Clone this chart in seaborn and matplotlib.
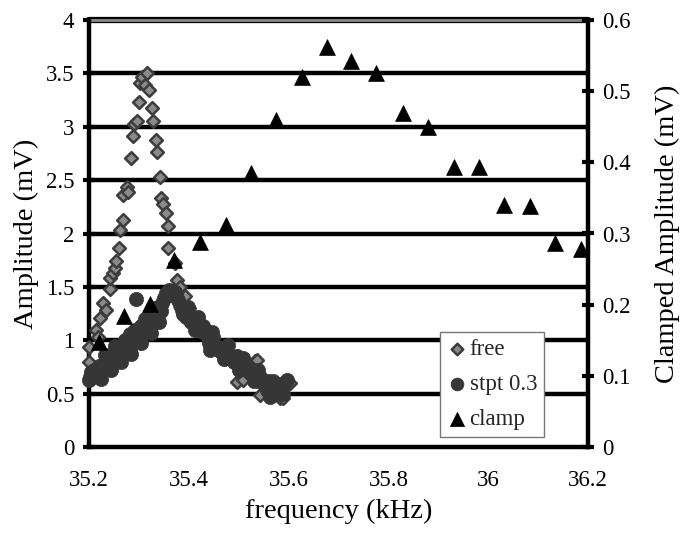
import matplotlib
matplotlib.use("Agg")
import matplotlib.pyplot as plt
import seaborn as sns
import pandas as pd

# ---- data ----
free_f = [35.200, 35.200, 35.215, 35.219, 35.222, 35.229, 35.235, 35.242, 35.243, 35.249,
          35.252, 35.255, 35.261, 35.262, 35.269, 35.269, 35.277, 35.279, 35.284, 35.289,
          35.290, 35.296, 35.300, 35.302, 35.306, 35.312, 35.317, 35.321, 35.326, 35.329,
          35.334, 35.337, 35.342, 35.345, 35.349, 35.354, 35.359, 35.359, 35.372, 35.377,
          35.382, 35.392, 35.400, 35.410, 35.420, 35.430, 35.440, 35.450, 35.460, 35.470,
          35.480, 35.496, 35.509, 35.509, 35.520, 35.533, 35.536, 35.543, 35.550, 35.560,
          35.570, 35.583, 35.589, 35.590, 35.603]
free_a = [0.80, 0.94, 1.10, 1.03, 1.21, 1.35, 1.28, 1.48, 1.58, 1.63,
          1.68, 1.74, 1.86, 2.03, 2.13, 2.36, 2.44, 2.39, 2.71, 2.91,
          3.03, 3.05, 3.23, 3.41, 3.47, 3.39, 3.50, 3.34, 3.18, 3.05,
          2.88, 2.76, 2.53, 2.33, 2.28, 2.19, 2.07, 1.86, 1.72, 1.56,
          1.50, 1.41, 1.30, 1.22, 1.15, 1.10, 1.02, 0.98, 0.92, 0.88,
          0.84, 0.61, 0.66, 0.63, 0.75, 0.81, 0.815, 0.49, 0.58, 0.55,
          0.52, 0.46, 0.46, 0.55, 0.60]

stpt_f = [35.200, 35.203, 35.205, 35.210, 35.215, 35.220, 35.223, 35.228, 35.230, 35.235,
          35.240, 35.245, 35.250, 35.255, 35.257, 35.262, 35.267, 35.272, 35.277, 35.282,
          35.283, 35.288, 35.294, 35.295, 35.300, 35.304, 35.309, 35.314, 35.319, 35.324,
          35.329, 35.334, 35.340, 35.344, 35.346, 35.350, 35.355, 35.357, 35.360, 35.364,
          35.368, 35.372, 35.375, 35.378, 35.382, 35.386, 35.389, 35.394, 35.400, 35.405,
          35.409, 35.415, 35.420, 35.425, 35.429, 35.435, 35.440, 35.443, 35.449, 35.452,
          35.458, 35.463, 35.469, 35.475, 35.480, 35.485, 35.490, 35.496, 35.500, 35.505,
          35.510, 35.516, 35.520, 35.525, 35.530, 35.535, 35.540, 35.543, 35.548, 35.553,
          35.558, 35.563, 35.563, 35.568, 35.573, 35.578, 35.583, 35.588, 35.590, 35.596,
          35.225, 35.245, 35.265, 35.285, 35.305, 35.325, 35.340,
          35.232, 35.252, 35.272, 35.292, 35.312, 35.332,
          35.398, 35.418, 35.446, 35.478, 35.508, 35.538, 35.568,
          35.412, 35.440, 35.470, 35.500, 35.530, 35.556]
stpt_a = [0.63, 0.66, 0.70, 0.72, 0.70, 0.76, 0.66, 0.74, 0.78, 0.82,
          0.80, 0.86, 0.84, 0.90, 0.91, 0.88, 0.95, 0.92, 0.97, 0.92,
          1.06, 1.02, 1.39, 1.08, 1.05, 1.13, 1.10, 1.16, 1.20, 1.19,
          1.22, 1.27, 1.30, 1.27, 1.35, 1.40, 1.44, 1.41, 1.47, 1.46,
          1.44, 1.45, 1.42, 1.38, 1.33, 1.28, 1.25, 1.22, 1.20, 1.17,
          1.19, 1.14, 1.12, 1.09, 1.13, 1.06, 1.02, 0.91, 1.03, 0.96,
          0.92, 0.90, 0.88, 0.86, 0.83, 0.85, 0.80, 0.85, 0.78, 0.76,
          0.74, 0.75, 0.70, 0.68, 0.72, 0.66, 0.62, 0.66, 0.60, 0.58,
          0.62, 0.60, 0.47, 0.55, 0.52, 0.58, 0.56, 0.50, 0.60, 0.63,
          0.64, 0.72, 0.80, 0.87, 0.97, 1.07, 1.17,
          0.86, 0.95, 1.00, 1.10, 1.20, 1.30,
          1.31, 1.22, 1.08, 0.96, 0.83, 0.72, 0.62,
          1.10, 0.97, 0.82, 0.72, 0.62, 0.53]

clamp_f = [35.220, 35.271, 35.322, 35.371, 35.422, 35.474, 35.524, 35.575, 35.626, 35.676,
           35.726, 35.776, 35.830, 35.880, 35.931, 35.982, 36.032, 36.084, 36.134, 36.185]
clamp_a = [0.147, 0.184, 0.201, 0.263, 0.288, 0.312, 0.385, 0.459, 0.520, 0.5625,
           0.543, 0.525, 0.470, 0.450, 0.393, 0.393, 0.340, 0.338, 0.287, 0.278]

x_ticks = [35.2, 35.4, 35.6, 35.8, 36.0, 36.2]
x_labels = ["35.2", "35.4", "35.6", "35.8", "36", "36.2"]
y_ticks = [0, 0.5, 1, 1.5, 2, 2.5, 3, 3.5, 4]
y_labels = ["0", "0.5", "1", "1.5", "2", "2.5", "3", "3.5", "4"]
y2_ticks = [0, 0.1, 0.2, 0.3, 0.4, 0.5, 0.6]
y2_labels = ["0", "0.1", "0.2", "0.3", "0.4", "0.5", "0.6"]

sns.set_theme(style="white")
plt.rcParams['font.family'] = ['Liberation Serif', 'DejaVu Serif']

fig = plt.figure(figsize=(6.86, 5.33), dpi=100)
ax = fig.add_axes([89/686, 1-447/533, (588-89)/686, (447-20)/533])
ax2 = ax.twinx()

df_free = pd.DataFrame({"f": free_f, "a": free_a})
df_stpt = pd.DataFrame({"f": stpt_f, "a": stpt_a})
df_clamp = pd.DataFrame({"f": clamp_f, "a": clamp_a})

# gridlines
for yv in y_ticks[1:-1]:
    ax.axhline(yv, color="black", lw=3.2, zorder=1)
ax.axhline(4, color="black", lw=4.5, zorder=1, clip_on=False)
ax.axhline(4, color="#808080", lw=2.2, zorder=1.1, clip_on=False)

sns.scatterplot(data=df_free, x="f", y="a", ax=ax, marker="D", s=42,
                color="#8a8a8a", edgecolor="#3c3c3c", linewidth=1.8,
                zorder=3, clip_on=False, label="free", legend=False)
sns.scatterplot(data=df_stpt, x="f", y="a", ax=ax, marker="o", s=105,
                color="#363636", edgecolor="#363636", linewidth=0.5,
                zorder=4, clip_on=False, label="stpt 0.3", legend=False)
sns.scatterplot(data=df_clamp, x="f", y="a", ax=ax2, marker="^", s=130,
                color="black", edgecolor="black", linewidth=0.5,
                zorder=5, clip_on=False, label="clamp", legend=False)

ax.set_xlim(35.2, 36.2)
ax.set_ylim(0, 4)
ax2.set_ylim(0, 0.6)
ax.set_xticks(x_ticks)
ax.set_xticklabels(x_labels)
ax.set_yticks(y_ticks)
ax.set_yticklabels(y_labels)
ax2.set_yticks(y2_ticks)
ax2.set_yticklabels(y2_labels)
ax.grid(False)
ax2.grid(False)

for a in (ax, ax2):
    for side in ("left", "right", "bottom"):
        a.spines[side].set_color("black")
        a.spines[side].set_linewidth(3.2)
    a.spines["top"].set_visible(False)
ax.spines["right"].set_visible(False)
ax2.spines["left"].set_visible(False)
ax2.spines["bottom"].set_visible(False)

ax.tick_params(axis="both", direction="inout", length=9, width=3, color="black",
               labelsize=16.5, labelcolor="black")
ax.tick_params(axis="x", pad=12)
ax.tick_params(axis="y", pad=6, left=True)
ax2.tick_params(axis="y", direction="inout", length=9, width=3, color="black",
                labelsize=16.5, labelcolor="black", pad=6, right=True)

ax.set_xlabel("frequency (kHz)", fontsize=20.5, color="black", labelpad=6)
ax.set_ylabel("Amplitude (mV)", fontsize=20.5, color="black", labelpad=5)
ax2.set_ylabel("Clamped Amplitude (mV)", fontsize=20.5, color="black", labelpad=17)

ax2.patch.set_visible(False)

h1, l1 = ax.get_legend_handles_labels()
h2, l2 = ax2.get_legend_handles_labels()
leg = ax2.legend(h1 + h2, l1 + l2, loc="lower left", bbox_to_anchor=(0.703, 0.024),
                 fontsize=16.5, frameon=True, fancybox=False, edgecolor="#777777",
                 framealpha=1, borderpad=0.3, labelspacing=0.6, handletextpad=0.1,
                 handlelength=0.9, borderaxespad=0, markerscale=0.9)
leg.get_frame().set_linewidth(1.0)

fig.savefig("out.png", dpi=100)
